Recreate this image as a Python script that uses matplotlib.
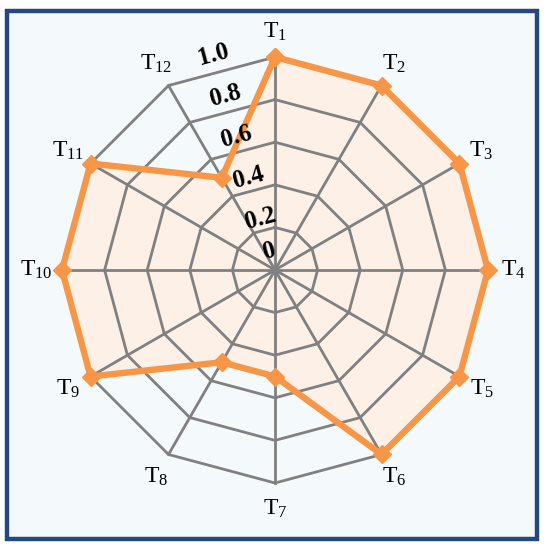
import numpy as np
import matplotlib
matplotlib.use('Agg')
import matplotlib.pyplot as plt
from matplotlib.patches import Rectangle

# data
labels = ['T$_{%d}$' % i for i in range(1, 13)]
values = [1.0, 1.0, 1.0, 1.0, 1.0, 1.0, 0.5, 0.5, 1.0, 1.0, 1.0, 0.5]
rings = [0.2, 0.4, 0.6, 0.8, 1.0]
tick_vals = [0, 0.2, 0.4, 0.6, 0.8, 1.0]
tick_text = ['0', '0.2', '0.4', '0.6', '0.8', '1.0']

plt.rcParams['font.family'] = 'Liberation Serif'
plt.rcParams['mathtext.fontset'] = 'custom'
plt.rcParams['mathtext.rm'] = 'Liberation Serif'
plt.rcParams['mathtext.it'] = 'Liberation Serif'

grid_col = '#808080'
line_col = '#f79646'
fill_col = '#fdf0e6'

fig = plt.figure(figsize=(5.45, 5.5), dpi=100)
fig.patch.set_facecolor('white')
# framed panel
fig.patches.append(Rectangle((7 / 545, 11 / 550), 530 / 545, 528 / 550,
                             transform=fig.transFigure, facecolor='#f4fafb',
                             edgecolor='#24497f', linewidth=3.2, zorder=-5))

ax = fig.add_axes([62 / 545, 65 / 550, 426 / 545, 430 / 550], projection='polar')
ax.set_zorder(2)
ax.patch.set_visible(False)
ax.set_theta_zero_location('N')
ax.set_theta_direction(-1)
ax.set_ylim(0, 1.0)
ax.grid(False)
ax.spines['polar'].set_visible(False)
ax.set_xticks([])
ax.set_yticks([])

n = len(labels)
theta = np.linspace(0, 2 * np.pi, n, endpoint=False)
th_closed = np.append(theta, theta[0])

# data fill under the grid
vals_closed = np.append(values, values[0])
ax.fill(th_closed, vals_closed, color=fill_col, zorder=1, clip_on=False)

# polygon grid
for r in rings:
    ax.plot(th_closed, [r] * (n + 1), color=grid_col, lw=2, zorder=2, clip_on=False)
for t in theta:
    ax.plot([t, t], [0, 1.0], color=grid_col, lw=2, zorder=2, clip_on=False)

# data line
ax.plot(th_closed, vals_closed, color=line_col, lw=4.6, marker='D', ms=9,
        zorder=3, clip_on=False)

# axis labels
for t, lab in zip(theta, labels):
    ax.text(t, 1.12, lab, ha='center', va='center', fontsize=17, clip_on=False)

# radial tick labels
for v, s in zip(tick_vals, tick_text):
    r = max(v + 0.05, 0.09)
    ax.text(np.deg2rad(-16), r, s, ha='center', va='center', fontsize=18,
            fontweight='bold', rotation=15, zorder=4)

fig.savefig('out.png', dpi=100)
